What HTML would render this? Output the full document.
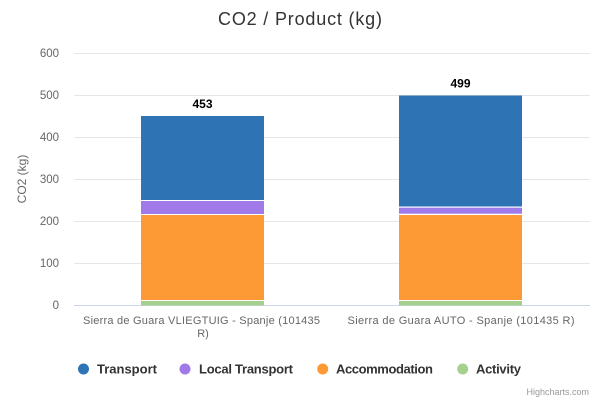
<!DOCTYPE html>
<html><head><meta charset="utf-8"><style>
html,body{margin:0;padding:0;background:#fff;}
svg{display:block;font-family:"Liberation Sans",sans-serif;}
</style></head><body>
<svg width="600" height="400" viewBox="0 0 600 400" xmlns="http://www.w3.org/2000/svg">
<rect width="600" height="400" fill="#fff"/>
<text x="300" y="25" text-anchor="middle" font-size="18" fill="#333" textLength="164" lengthAdjust="spacing">CO2 / Product (kg)</text>
<g stroke="#e6e6e6" stroke-width="1">
<line x1="74" y1="53.5" x2="590" y2="53.5"/>
<line x1="74" y1="95.5" x2="590" y2="95.5"/>
<line x1="74" y1="137.5" x2="590" y2="137.5"/>
<line x1="74" y1="179.5" x2="590" y2="179.5"/>
<line x1="74" y1="221.5" x2="590" y2="221.5"/>
<line x1="74" y1="263.5" x2="590" y2="263.5"/>
</g>
<line x1="74" y1="305.5" x2="590" y2="305.5" stroke="#ccd6eb" stroke-width="1"/>
<g font-size="11.5" fill="#666" text-anchor="end">
<text x="59" y="57">600</text>
<text x="59" y="99">500</text>
<text x="59" y="141">400</text>
<text x="59" y="183">300</text>
<text x="59" y="225">200</text>
<text x="59" y="267">100</text>
<text x="59" y="309">0</text>
</g>
<text transform="translate(26,179) rotate(-90)" text-anchor="middle" font-size="12" fill="#666">CO2 (kg)</text>
<!-- bar 1 -->
<rect x="141" y="116" width="123" height="84" fill="#2e74b5"/>
<rect x="141" y="201" width="123" height="13" fill="#9f7ae8"/>
<rect x="141" y="215" width="123" height="85" fill="#fd9a35"/>
<rect x="141" y="301" width="123" height="4.5" fill="#a5d08e"/>
<!-- bar 2 -->
<rect x="399" y="95.5" width="123" height="111" fill="#2e74b5"/>
<rect x="399" y="207.7" width="123" height="6" fill="#9f7ae8"/>
<rect x="399" y="215" width="123" height="85" fill="#fd9a35"/>
<rect x="399" y="301" width="123" height="4.5" fill="#a5d08e"/>
<g font-size="12" font-weight="bold" fill="#000" text-anchor="middle">
<text x="202.5" y="108">453</text>
<text x="460.5" y="87.5">499</text>
</g>
<g font-size="11" fill="#666" text-anchor="middle">
<text x="201.5" y="324" textLength="237" lengthAdjust="spacing">Sierra de Guara VLIEGTUIG - Spanje (101435</text>
<text x="203" y="337">R)</text>
<text x="461" y="324" textLength="227" lengthAdjust="spacing">Sierra de Guara AUTO - Spanje (101435 R)</text>
</g>
<g font-size="13" font-weight="bold" fill="#333">
<circle cx="83.5" cy="369" r="5.5" fill="#2e74b5"/>
<text x="97" y="373.5">Transport</text>
<circle cx="185" cy="369" r="5.5" fill="#9f7ae8"/>
<text x="199" y="373.5" textLength="94" lengthAdjust="spacing">Local Transport</text>
<circle cx="322.7" cy="369" r="5.5" fill="#fd9a35"/>
<text x="336" y="373.5" textLength="97" lengthAdjust="spacing">Accommodation</text>
<circle cx="462.7" cy="369" r="5.5" fill="#a5d08e"/>
<text x="476" y="373.5" textLength="45" lengthAdjust="spacing">Activity</text>
</g>
<text x="589" y="395" text-anchor="end" font-size="9" fill="#999">Highcharts.com</text>
</svg>
</body></html>
